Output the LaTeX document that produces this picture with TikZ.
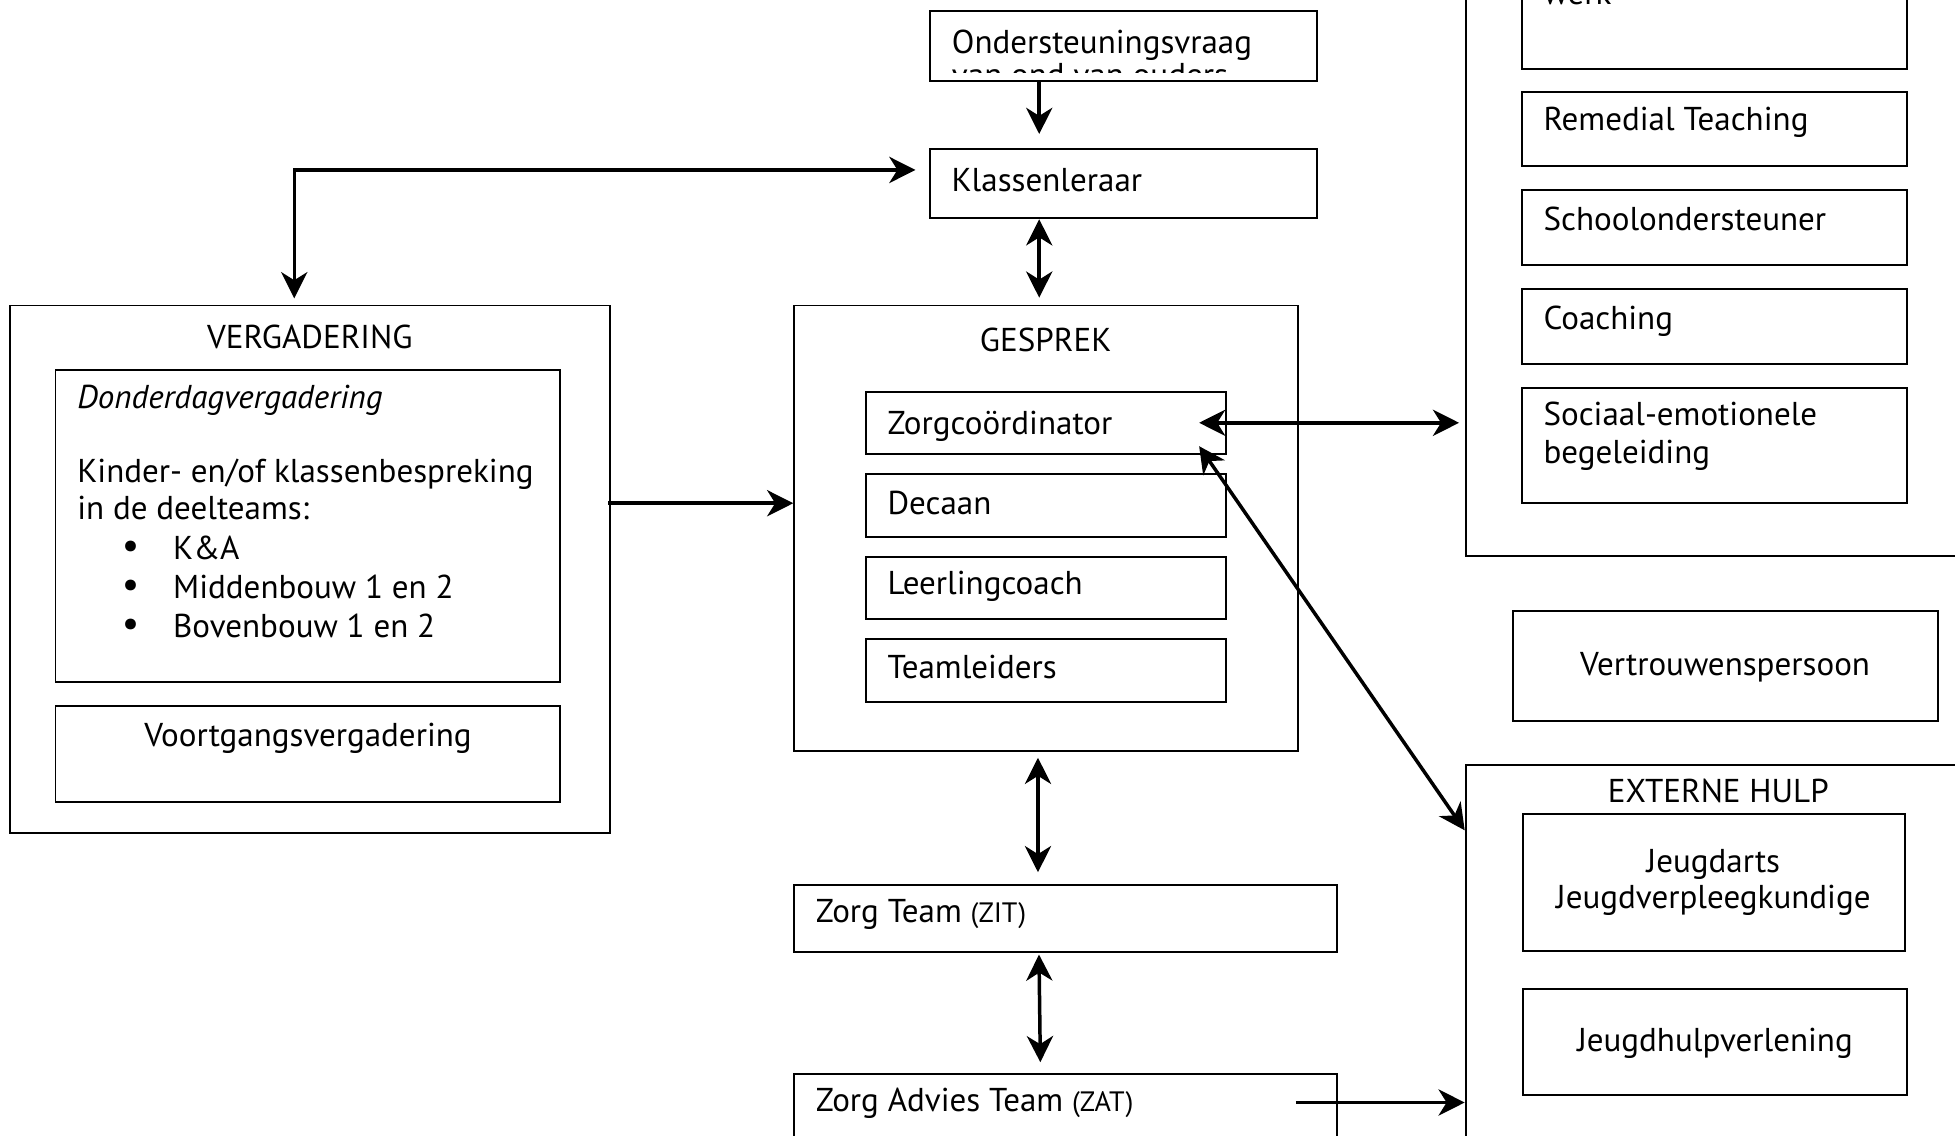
\documentclass[tikz,border=0pt]{standalone}
\usepackage{fontspec}
\setmainfont{PT Sans}
\usetikzlibrary{arrows.meta,fit,calc}
\newcommand\mfs{\fontsize{26.5}{31}\selectfont}
\newcommand\sfs{\fontsize{22.5}{25}\selectfont}
\newcommand\bfs{\fontsize{31}{31}\selectfont}
\tikzset{
  box/.style={draw, line width=1.5pt, inner sep=0pt, rectangle},
  txt/.style={font=\mfs, inner sep=0pt, anchor=base west},
  ctxt/.style={font=\mfs, inner sep=0pt, anchor=base},
  bul/.style={font=\bfs, inner sep=0pt, anchor=center},
  arr/.style={line width=2.8pt, -{Stealth[length=21pt,width=21pt,inset=6.5pt]}},
  dbl/.style={line width=2.8pt, {Stealth[length=21pt,width=21pt,inset=6.5pt]}-{Stealth[length=21pt,width=21pt,inset=6.5pt]}}
}
\begin{document}
\begin{tikzpicture}[x=1pt,y=-1pt]
\useasboundingbox (0,0) rectangle (1568,911);
\fill[white] (0,0) rectangle (1568,911);
\clip (0,0) rectangle (1568,911);

% top column
\node[box, fit={(746,9) (1056,64.7)}] (ond) {};
\node[txt] (tond) at (763.3,42.8) {Ondersteuningsvraag};
\begin{scope}
  \clip (746,9) rectangle (1056,58);
  \node[txt] (tond2) at (763.3,69.5) {van ond van ouders};
\end{scope}
\node[box, fit={(746,119.2) (1056,175.1)}] (kl) {};
\node[txt] (tkl) at (763,153.7) {Klassenleraar};

% VERGADERING
\node[box, fit={(8,245) (489,668)}] (verg) {};
\node[ctxt] (tverg) at (248.5,279.4) {VERGADERING};
\node[box, fit={(44.5,296.6) (448.8,546.7)}] (dond) {};
\node[txt] (td1) at (61.8,327.5) {\itshape Donderdagvergadering};
\node[txt] (td2) at (61.8,386.8) {Kinder- en/of klassenbespreking};
\node[txt] (td3) at (61.8,417) {in de deelteams:};
\node[bul] (b1) at (104.8,441) {•};
\node[bul] (b2) at (104.8,472) {•};
\node[bul] (b3) at (104.8,503.5) {•};
\node[txt] (td4) at (138.7,449) {K\&A};
\node[txt] (td5) at (138.7,480) {Middenbouw 1 en 2};
\node[txt] (td6) at (138.7,511.5) {Bovenbouw 1 en 2};
\node[box, fit={(44.5,566) (448.8,643)}] (voort) {};
\node[ctxt] (tvoort) at (247,598.9) {Voortgangsvergadering};

% GESPREK
\node[box, fit={(637,245) (1041,602.5)}] (gesp) {};
\node[ctxt] (tgesp) at (838.7,282) {GESPREK};
\node[box, fit={(694.3,314.1) (983.3,364.1)}] (zc) {};
\node[txt] (tzc) at (711.7,348.1) {Zorgcoördinator};
\node[box, fit={(694.3,380.2) (983.3,430.4)}] (dec) {};
\node[txt] (tdec) at (711.7,412.3) {Decaan};
\node[box, fit={(694.3,446.5) (983.3,496.7)}] (llc) {};
\node[txt] (tllc) at (711.7,477.2) {Leerlingcoach};
\node[box, fit={(694.3,512.8) (983.3,563)}] (tl) {};
\node[txt] (ttl) at (711.7,544) {Teamleiders};

% ZIT / ZAT
\node[box, fit={(637,709.8) (1072.5,763.3)}] (zit) {};
\node[txt] (tzit) at (654.2,740) {Zorg Team {\sfs (ZIT)}};
\node[box, fit={(637,861.7) (1072.5,930)}] (zat) {};
\node[txt] (tzat) at (654.2,891.6) {Zorg Advies Team {\sfs (ZAT)}};

% right top group
\node[box, fit={(1175.5,-40) (1600,446)}] (big) {};
\node[box, fit={(1221,-60) (1529.2,55.4)}] (werk) {};
\node[txt] (twerk) at (1237.8,4) {werk};
\node[box, fit={(1221,73.5) (1529.2,133)}] (rt) {};
\node[txt] (trt) at (1237.8,105) {Remedial Teaching};
\node[box, fit={(1221,152.2) (1529.2,212.3)}] (so) {};
\node[txt] (tso) at (1237.8,185.2) {Schoolondersteuner};
\node[box, fit={(1221,231.8) (1529.2,291.7)}] (co) {};
\node[txt] (tco) at (1237.8,263.9) {Coaching};
\node[box, fit={(1221,311.5) (1529.2,403.4)}] (se) {};
\node[txt] (tse1) at (1237.8,341.2) {Sociaal-emotionele};
\node[txt] (tse2) at (1237.8,371.9) {begeleiding};

% Vertrouwenspersoon
\node[box, fit={(1213.8,490) (1554.6,578)}] (vp) {};
\node[ctxt] (tvp) at (1383.6,541.6) {Vertrouwenspersoon};

% EXTERNE HULP
\node[box, fit={(1175.5,613.7) (1600,950)}] (ext) {};
\node[ctxt] (text) at (1378.2,643.6) {EXTERNE HULP};
\node[box, fit={(1221.3,652.8) (1527.9,762.8)}] (jd) {};
\node[ctxt] (tjd1) at (1374.2,699.4) {Jeugdarts};
\node[ctxt] (tjd2) at (1374.2,728.7) {Jeugdverpleegkundige};
\node[box, fit={(1221.3,793) (1529.2,878.2)}] (jh) {};
\node[ctxt] (tjh) at (1375.5,843.2) {Jeugdhulpverlening};

% connectors
\coordinate (vx) at (833.5,0);
\coordinate (corner) at (236,136.3);
\coordinate (hy) at (0,403.6);
\coordinate (zs) at ($(zat.north west)+(403,23.3)$);

\draw[arr] (vx |- ond.south) -- ($(vx |- kl.north)+(0,-11)$);
\draw[dbl] ($(corner -| kl.west)+(-11,0)$) -- (corner) -- ($(corner |- verg.north)+(0,-5)$);
\draw[dbl] (vx |- kl.south) -- ($(vx |- gesp.north)+(0,-5.5)$);
\draw[arr] ($(verg.east |- hy)+(-2,0)$) -- (gesp.west |- hy);
\draw[dbl] ($(vx |- gesp.south)+(-1,4.5)$) -- ($(vx |- zit.north)+(-1,-9.5)$);
\draw[dbl] ($(vx |- zit.south)+(-0.2,1.5)$) -- ($(vx |- zat.north)+(0.9,-9)$);
\draw[dbl] ($(zc.east)+(-22.3,0)$) -- ($(big.west |- zc.east)+(-4.5,0)$);
\draw[dbl] ($(zc.south east)+(-22.3,-7)$) -- ($(ext.north west)+(0,53)$);
\draw[arr] (zs) -- (zs -| ext.west);
\end{tikzpicture}
\end{document}
